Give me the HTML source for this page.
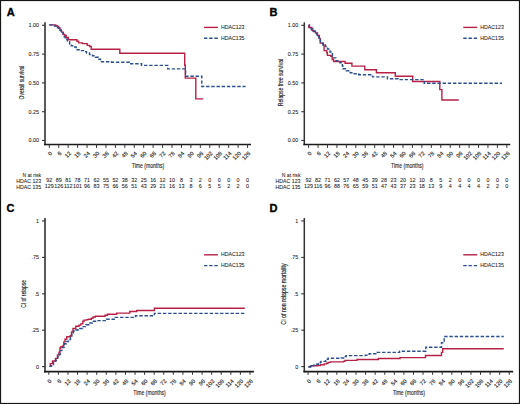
<!DOCTYPE html><html><head><meta charset="utf-8"><style>
html,body{margin:0;padding:0;background:#fff;overflow:hidden;width:520px;height:404px;}
svg{display:block;}
.t{font-family:"Liberation Sans", sans-serif;font-size:5.4px;fill:#1a1a1a;stroke:#1a1a1a;stroke-width:0.07px;}
.yl{font-size:7px;stroke-width:0.15px;}
.tk{font-size:5.7px;stroke-width:0.1px;}
.tm{font-size:6.3px;stroke-width:0.1px;}
.L{font-family:"Liberation Sans", sans-serif;font-size:11px;font-weight:bold;fill:#000;stroke:#000;stroke-width:0.35px;}
</style></head><body>
<svg width="520" height="404" viewBox="0 0 520 404">
<rect x="0" y="0" width="520" height="404" fill="#fff"/>
<line x1="45.00" y1="22.3" x2="45.00" y2="145.2" stroke="#5a5a5a" stroke-width="2"/>
<line x1="42.00" y1="25.3" x2="45.00" y2="25.3" stroke="#333" stroke-width="1.1"/>
<text x="38.90" y="27.20" text-anchor="end" class="t">1.00</text>
<line x1="42.00" y1="54.1" x2="45.00" y2="54.1" stroke="#333" stroke-width="1.1"/>
<text x="38.90" y="56.00" text-anchor="end" class="t">0.75</text>
<line x1="42.00" y1="82.9" x2="45.00" y2="82.9" stroke="#333" stroke-width="1.1"/>
<text x="38.90" y="84.80" text-anchor="end" class="t">0.50</text>
<line x1="42.00" y1="111.7" x2="45.00" y2="111.7" stroke="#333" stroke-width="1.1"/>
<text x="38.90" y="113.60" text-anchor="end" class="t">0.25</text>
<line x1="42.00" y1="140.45" x2="45.00" y2="140.45" stroke="#333" stroke-width="1.1"/>
<text x="38.90" y="142.35" text-anchor="end" class="t">0.00</text>
<line x1="44.10" y1="144.5" x2="251.00" y2="144.5" stroke="#1a1a1a" stroke-width="1.4"/>
<line x1="49.30" y1="144.3" x2="49.30" y2="147.9" stroke="#333" stroke-width="1"/>
<text transform="translate(51.20,152.3) rotate(-45)" text-anchor="end" dy="2" class="t tk">0</text>
<line x1="58.74" y1="144.3" x2="58.74" y2="147.9" stroke="#333" stroke-width="1"/>
<text transform="translate(60.64,152.3) rotate(-45)" text-anchor="end" dy="2" class="t tk">6</text>
<line x1="68.18" y1="144.3" x2="68.18" y2="147.9" stroke="#333" stroke-width="1"/>
<text transform="translate(70.08,152.3) rotate(-45)" text-anchor="end" dy="2" class="t tk">12</text>
<line x1="77.62" y1="144.3" x2="77.62" y2="147.9" stroke="#333" stroke-width="1"/>
<text transform="translate(79.52,152.3) rotate(-45)" text-anchor="end" dy="2" class="t tk">18</text>
<line x1="87.06" y1="144.3" x2="87.06" y2="147.9" stroke="#333" stroke-width="1"/>
<text transform="translate(88.96,152.3) rotate(-45)" text-anchor="end" dy="2" class="t tk">24</text>
<line x1="96.50" y1="144.3" x2="96.50" y2="147.9" stroke="#333" stroke-width="1"/>
<text transform="translate(98.40,152.3) rotate(-45)" text-anchor="end" dy="2" class="t tk">30</text>
<line x1="105.94" y1="144.3" x2="105.94" y2="147.9" stroke="#333" stroke-width="1"/>
<text transform="translate(107.84,152.3) rotate(-45)" text-anchor="end" dy="2" class="t tk">36</text>
<line x1="115.38" y1="144.3" x2="115.38" y2="147.9" stroke="#333" stroke-width="1"/>
<text transform="translate(117.28,152.3) rotate(-45)" text-anchor="end" dy="2" class="t tk">42</text>
<line x1="124.82" y1="144.3" x2="124.82" y2="147.9" stroke="#333" stroke-width="1"/>
<text transform="translate(126.72,152.3) rotate(-45)" text-anchor="end" dy="2" class="t tk">48</text>
<line x1="134.26" y1="144.3" x2="134.26" y2="147.9" stroke="#333" stroke-width="1"/>
<text transform="translate(136.16,152.3) rotate(-45)" text-anchor="end" dy="2" class="t tk">54</text>
<line x1="143.70" y1="144.3" x2="143.70" y2="147.9" stroke="#333" stroke-width="1"/>
<text transform="translate(145.60,152.3) rotate(-45)" text-anchor="end" dy="2" class="t tk">60</text>
<line x1="153.14" y1="144.3" x2="153.14" y2="147.9" stroke="#333" stroke-width="1"/>
<text transform="translate(155.04,152.3) rotate(-45)" text-anchor="end" dy="2" class="t tk">66</text>
<line x1="162.58" y1="144.3" x2="162.58" y2="147.9" stroke="#333" stroke-width="1"/>
<text transform="translate(164.48,152.3) rotate(-45)" text-anchor="end" dy="2" class="t tk">72</text>
<line x1="172.02" y1="144.3" x2="172.02" y2="147.9" stroke="#333" stroke-width="1"/>
<text transform="translate(173.92,152.3) rotate(-45)" text-anchor="end" dy="2" class="t tk">78</text>
<line x1="181.46" y1="144.3" x2="181.46" y2="147.9" stroke="#333" stroke-width="1"/>
<text transform="translate(183.36,152.3) rotate(-45)" text-anchor="end" dy="2" class="t tk">84</text>
<line x1="190.90" y1="144.3" x2="190.90" y2="147.9" stroke="#333" stroke-width="1"/>
<text transform="translate(192.80,152.3) rotate(-45)" text-anchor="end" dy="2" class="t tk">90</text>
<line x1="200.34" y1="144.3" x2="200.34" y2="147.9" stroke="#333" stroke-width="1"/>
<text transform="translate(202.24,152.3) rotate(-45)" text-anchor="end" dy="2" class="t tk">96</text>
<line x1="209.78" y1="144.3" x2="209.78" y2="147.9" stroke="#333" stroke-width="1"/>
<text transform="translate(211.68,152.3) rotate(-45)" text-anchor="end" dy="2" class="t tk">102</text>
<line x1="219.22" y1="144.3" x2="219.22" y2="147.9" stroke="#333" stroke-width="1"/>
<text transform="translate(221.12,152.3) rotate(-45)" text-anchor="end" dy="2" class="t tk">108</text>
<line x1="228.66" y1="144.3" x2="228.66" y2="147.9" stroke="#333" stroke-width="1"/>
<text transform="translate(230.56,152.3) rotate(-45)" text-anchor="end" dy="2" class="t tk">114</text>
<line x1="238.10" y1="144.3" x2="238.10" y2="147.9" stroke="#333" stroke-width="1"/>
<text transform="translate(240.00,152.3) rotate(-45)" text-anchor="end" dy="2" class="t tk">120</text>
<line x1="247.54" y1="144.3" x2="247.54" y2="147.9" stroke="#333" stroke-width="1"/>
<text transform="translate(249.44,152.3) rotate(-45)" text-anchor="end" dy="2" class="t tk">126</text>
<text x="148.00" y="167.5" text-anchor="middle" class="t tm" textLength="32.5" lengthAdjust="spacingAndGlyphs">Time (months)</text>
<text transform="translate(24.10,82.5) rotate(-90)" text-anchor="middle" class="t yl" textLength="33.8" lengthAdjust="spacingAndGlyphs">Overall survival</text>
<line x1="204.00" y1="27.4" x2="217.90" y2="27.4" stroke="#b82146" stroke-width="1.4"/>
<line x1="204.00" y1="38.2" x2="217.90" y2="38.2" stroke="#2c4f8f" stroke-width="1.4" stroke-dasharray="3.4 1.8"/>
<text x="221.00" y="29.3" class="t" textLength="23.5" lengthAdjust="spacingAndGlyphs">HDAC123</text>
<text x="221.00" y="40.1" class="t" textLength="23.5" lengthAdjust="spacingAndGlyphs">HDAC135</text>
<text x="41.20" y="176.5" text-anchor="end" class="t" textLength="18.8" lengthAdjust="spacingAndGlyphs">N at risk</text>
<text x="41.20" y="183" text-anchor="end" class="t" textLength="25" lengthAdjust="spacingAndGlyphs">HDAC 123</text>
<text x="41.20" y="189.1" text-anchor="end" class="t" textLength="25" lengthAdjust="spacingAndGlyphs">HDAC 135</text>
<text x="49.30" y="182.2" text-anchor="middle" class="t">92</text>
<text x="49.30" y="188.3" text-anchor="middle" class="t">129</text>
<text x="58.74" y="182.2" text-anchor="middle" class="t">89</text>
<text x="58.74" y="188.3" text-anchor="middle" class="t">126</text>
<text x="68.18" y="182.2" text-anchor="middle" class="t">81</text>
<text x="68.18" y="188.3" text-anchor="middle" class="t">112</text>
<text x="77.62" y="182.2" text-anchor="middle" class="t">78</text>
<text x="77.62" y="188.3" text-anchor="middle" class="t">101</text>
<text x="87.06" y="182.2" text-anchor="middle" class="t">71</text>
<text x="87.06" y="188.3" text-anchor="middle" class="t">96</text>
<text x="96.50" y="182.2" text-anchor="middle" class="t">62</text>
<text x="96.50" y="188.3" text-anchor="middle" class="t">83</text>
<text x="105.94" y="182.2" text-anchor="middle" class="t">55</text>
<text x="105.94" y="188.3" text-anchor="middle" class="t">75</text>
<text x="115.38" y="182.2" text-anchor="middle" class="t">52</text>
<text x="115.38" y="188.3" text-anchor="middle" class="t">66</text>
<text x="124.82" y="182.2" text-anchor="middle" class="t">38</text>
<text x="124.82" y="188.3" text-anchor="middle" class="t">56</text>
<text x="134.26" y="182.2" text-anchor="middle" class="t">32</text>
<text x="134.26" y="188.3" text-anchor="middle" class="t">51</text>
<text x="143.70" y="182.2" text-anchor="middle" class="t">25</text>
<text x="143.70" y="188.3" text-anchor="middle" class="t">43</text>
<text x="153.14" y="182.2" text-anchor="middle" class="t">16</text>
<text x="153.14" y="188.3" text-anchor="middle" class="t">29</text>
<text x="162.58" y="182.2" text-anchor="middle" class="t">12</text>
<text x="162.58" y="188.3" text-anchor="middle" class="t">21</text>
<text x="172.02" y="182.2" text-anchor="middle" class="t">10</text>
<text x="172.02" y="188.3" text-anchor="middle" class="t">16</text>
<text x="181.46" y="182.2" text-anchor="middle" class="t">8</text>
<text x="181.46" y="188.3" text-anchor="middle" class="t">13</text>
<text x="190.90" y="182.2" text-anchor="middle" class="t">3</text>
<text x="190.90" y="188.3" text-anchor="middle" class="t">8</text>
<text x="200.34" y="182.2" text-anchor="middle" class="t">2</text>
<text x="200.34" y="188.3" text-anchor="middle" class="t">6</text>
<text x="209.78" y="182.2" text-anchor="middle" class="t">0</text>
<text x="209.78" y="188.3" text-anchor="middle" class="t">5</text>
<text x="219.22" y="182.2" text-anchor="middle" class="t">0</text>
<text x="219.22" y="188.3" text-anchor="middle" class="t">5</text>
<text x="228.66" y="182.2" text-anchor="middle" class="t">0</text>
<text x="228.66" y="188.3" text-anchor="middle" class="t">2</text>
<text x="238.10" y="182.2" text-anchor="middle" class="t">0</text>
<text x="238.10" y="188.3" text-anchor="middle" class="t">2</text>
<text x="247.54" y="182.2" text-anchor="middle" class="t">0</text>
<text x="247.54" y="188.3" text-anchor="middle" class="t">0</text>
<path d="M49.30,24.90H55.80V25.60H57.20V26.50H58.60V28.00H60.00V30.20H61.50V32.10H63.20V34.50H64.80V35.40H66.20V37.50H68.30V39.80H76.90V41.30H78.60V42.90H82.50V43.60H87.20V45.40H89.60V46.50H91.20V49.20H119.80V53.20H184.70V65.20H185.30V78.10H195.80V98.90H203.30V98.90" fill="none" stroke="#b82146" stroke-width="1.4"/>
<path d="M49.30,24.90H54.50V26.10H56.80V27.70H59.00V30.20H61.20V33.00H63.40V36.70H65.20V39.30H67.30V41.60H69.60V44.10H71.20V45.80H73.50V47.00H76.20V49.80H80.50V50.60H83.50V51.60H86.50V53.00H89.50V54.50H92.50V55.80H95.50V57.30H98.20V59.20H100.50V61.80H111.50V62.30H129.30V63.80H141.60V65.40H167.70V68.90H185.60V69.30H185.60V76.20H201.80V86.50H245.60V86.50" fill="none" stroke="#2c4f8f" stroke-width="1.4" stroke-dasharray="3.4 1.8"/>
<line x1="304.30" y1="22.3" x2="304.30" y2="145.2" stroke="#333" stroke-width="1.5"/>
<line x1="301.30" y1="25.3" x2="304.30" y2="25.3" stroke="#333" stroke-width="1.1"/>
<text x="298.20" y="27.20" text-anchor="end" class="t">1.00</text>
<line x1="301.30" y1="54.1" x2="304.30" y2="54.1" stroke="#333" stroke-width="1.1"/>
<text x="298.20" y="56.00" text-anchor="end" class="t">0.75</text>
<line x1="301.30" y1="82.9" x2="304.30" y2="82.9" stroke="#333" stroke-width="1.1"/>
<text x="298.20" y="84.80" text-anchor="end" class="t">0.50</text>
<line x1="301.30" y1="111.7" x2="304.30" y2="111.7" stroke="#333" stroke-width="1.1"/>
<text x="298.20" y="113.60" text-anchor="end" class="t">0.25</text>
<line x1="301.30" y1="140.45" x2="304.30" y2="140.45" stroke="#333" stroke-width="1.1"/>
<text x="298.20" y="142.35" text-anchor="end" class="t">0.00</text>
<line x1="303.40" y1="144.5" x2="510.30" y2="144.5" stroke="#1a1a1a" stroke-width="1.4"/>
<line x1="308.60" y1="144.3" x2="308.60" y2="147.9" stroke="#333" stroke-width="1"/>
<text transform="translate(310.50,152.3) rotate(-45)" text-anchor="end" dy="2" class="t tk">0</text>
<line x1="318.04" y1="144.3" x2="318.04" y2="147.9" stroke="#333" stroke-width="1"/>
<text transform="translate(319.94,152.3) rotate(-45)" text-anchor="end" dy="2" class="t tk">6</text>
<line x1="327.48" y1="144.3" x2="327.48" y2="147.9" stroke="#333" stroke-width="1"/>
<text transform="translate(329.38,152.3) rotate(-45)" text-anchor="end" dy="2" class="t tk">12</text>
<line x1="336.92" y1="144.3" x2="336.92" y2="147.9" stroke="#333" stroke-width="1"/>
<text transform="translate(338.82,152.3) rotate(-45)" text-anchor="end" dy="2" class="t tk">18</text>
<line x1="346.36" y1="144.3" x2="346.36" y2="147.9" stroke="#333" stroke-width="1"/>
<text transform="translate(348.26,152.3) rotate(-45)" text-anchor="end" dy="2" class="t tk">24</text>
<line x1="355.80" y1="144.3" x2="355.80" y2="147.9" stroke="#333" stroke-width="1"/>
<text transform="translate(357.70,152.3) rotate(-45)" text-anchor="end" dy="2" class="t tk">30</text>
<line x1="365.24" y1="144.3" x2="365.24" y2="147.9" stroke="#333" stroke-width="1"/>
<text transform="translate(367.14,152.3) rotate(-45)" text-anchor="end" dy="2" class="t tk">36</text>
<line x1="374.68" y1="144.3" x2="374.68" y2="147.9" stroke="#333" stroke-width="1"/>
<text transform="translate(376.58,152.3) rotate(-45)" text-anchor="end" dy="2" class="t tk">42</text>
<line x1="384.12" y1="144.3" x2="384.12" y2="147.9" stroke="#333" stroke-width="1"/>
<text transform="translate(386.02,152.3) rotate(-45)" text-anchor="end" dy="2" class="t tk">48</text>
<line x1="393.56" y1="144.3" x2="393.56" y2="147.9" stroke="#333" stroke-width="1"/>
<text transform="translate(395.46,152.3) rotate(-45)" text-anchor="end" dy="2" class="t tk">54</text>
<line x1="403.00" y1="144.3" x2="403.00" y2="147.9" stroke="#333" stroke-width="1"/>
<text transform="translate(404.90,152.3) rotate(-45)" text-anchor="end" dy="2" class="t tk">60</text>
<line x1="412.44" y1="144.3" x2="412.44" y2="147.9" stroke="#333" stroke-width="1"/>
<text transform="translate(414.34,152.3) rotate(-45)" text-anchor="end" dy="2" class="t tk">66</text>
<line x1="421.88" y1="144.3" x2="421.88" y2="147.9" stroke="#333" stroke-width="1"/>
<text transform="translate(423.78,152.3) rotate(-45)" text-anchor="end" dy="2" class="t tk">72</text>
<line x1="431.32" y1="144.3" x2="431.32" y2="147.9" stroke="#333" stroke-width="1"/>
<text transform="translate(433.22,152.3) rotate(-45)" text-anchor="end" dy="2" class="t tk">78</text>
<line x1="440.76" y1="144.3" x2="440.76" y2="147.9" stroke="#333" stroke-width="1"/>
<text transform="translate(442.66,152.3) rotate(-45)" text-anchor="end" dy="2" class="t tk">84</text>
<line x1="450.20" y1="144.3" x2="450.20" y2="147.9" stroke="#333" stroke-width="1"/>
<text transform="translate(452.10,152.3) rotate(-45)" text-anchor="end" dy="2" class="t tk">90</text>
<line x1="459.64" y1="144.3" x2="459.64" y2="147.9" stroke="#333" stroke-width="1"/>
<text transform="translate(461.54,152.3) rotate(-45)" text-anchor="end" dy="2" class="t tk">96</text>
<line x1="469.08" y1="144.3" x2="469.08" y2="147.9" stroke="#333" stroke-width="1"/>
<text transform="translate(470.98,152.3) rotate(-45)" text-anchor="end" dy="2" class="t tk">102</text>
<line x1="478.52" y1="144.3" x2="478.52" y2="147.9" stroke="#333" stroke-width="1"/>
<text transform="translate(480.42,152.3) rotate(-45)" text-anchor="end" dy="2" class="t tk">108</text>
<line x1="487.96" y1="144.3" x2="487.96" y2="147.9" stroke="#333" stroke-width="1"/>
<text transform="translate(489.86,152.3) rotate(-45)" text-anchor="end" dy="2" class="t tk">114</text>
<line x1="497.40" y1="144.3" x2="497.40" y2="147.9" stroke="#333" stroke-width="1"/>
<text transform="translate(499.30,152.3) rotate(-45)" text-anchor="end" dy="2" class="t tk">120</text>
<line x1="506.84" y1="144.3" x2="506.84" y2="147.9" stroke="#333" stroke-width="1"/>
<text transform="translate(508.74,152.3) rotate(-45)" text-anchor="end" dy="2" class="t tk">126</text>
<text x="407.30" y="167.5" text-anchor="middle" class="t tm" textLength="32.5" lengthAdjust="spacingAndGlyphs">Time (months)</text>
<text transform="translate(283.40,82.5) rotate(-90)" text-anchor="middle" class="t yl" textLength="47.5" lengthAdjust="spacingAndGlyphs">Relapse free survival</text>
<line x1="463.30" y1="27.4" x2="477.20" y2="27.4" stroke="#b82146" stroke-width="1.4"/>
<line x1="463.30" y1="38.2" x2="477.20" y2="38.2" stroke="#2c4f8f" stroke-width="1.4" stroke-dasharray="3.4 1.8"/>
<text x="480.30" y="29.3" class="t" textLength="23.5" lengthAdjust="spacingAndGlyphs">HDAC123</text>
<text x="480.30" y="40.1" class="t" textLength="23.5" lengthAdjust="spacingAndGlyphs">HDAC135</text>
<text x="300.50" y="176.5" text-anchor="end" class="t" textLength="18.8" lengthAdjust="spacingAndGlyphs">N at risk</text>
<text x="300.50" y="183" text-anchor="end" class="t" textLength="25" lengthAdjust="spacingAndGlyphs">HDAC 123</text>
<text x="300.50" y="189.1" text-anchor="end" class="t" textLength="25" lengthAdjust="spacingAndGlyphs">HDAC 135</text>
<text x="308.60" y="182.2" text-anchor="middle" class="t">92</text>
<text x="308.60" y="188.3" text-anchor="middle" class="t">129</text>
<text x="318.04" y="182.2" text-anchor="middle" class="t">82</text>
<text x="318.04" y="188.3" text-anchor="middle" class="t">116</text>
<text x="327.48" y="182.2" text-anchor="middle" class="t">71</text>
<text x="327.48" y="188.3" text-anchor="middle" class="t">96</text>
<text x="336.92" y="182.2" text-anchor="middle" class="t">62</text>
<text x="336.92" y="188.3" text-anchor="middle" class="t">88</text>
<text x="346.36" y="182.2" text-anchor="middle" class="t">57</text>
<text x="346.36" y="188.3" text-anchor="middle" class="t">76</text>
<text x="355.80" y="182.2" text-anchor="middle" class="t">48</text>
<text x="355.80" y="188.3" text-anchor="middle" class="t">65</text>
<text x="365.24" y="182.2" text-anchor="middle" class="t">45</text>
<text x="365.24" y="188.3" text-anchor="middle" class="t">59</text>
<text x="374.68" y="182.2" text-anchor="middle" class="t">39</text>
<text x="374.68" y="188.3" text-anchor="middle" class="t">51</text>
<text x="384.12" y="182.2" text-anchor="middle" class="t">28</text>
<text x="384.12" y="188.3" text-anchor="middle" class="t">47</text>
<text x="393.56" y="182.2" text-anchor="middle" class="t">23</text>
<text x="393.56" y="188.3" text-anchor="middle" class="t">43</text>
<text x="403.00" y="182.2" text-anchor="middle" class="t">20</text>
<text x="403.00" y="188.3" text-anchor="middle" class="t">37</text>
<text x="412.44" y="182.2" text-anchor="middle" class="t">12</text>
<text x="412.44" y="188.3" text-anchor="middle" class="t">23</text>
<text x="421.88" y="182.2" text-anchor="middle" class="t">10</text>
<text x="421.88" y="188.3" text-anchor="middle" class="t">18</text>
<text x="431.32" y="182.2" text-anchor="middle" class="t">8</text>
<text x="431.32" y="188.3" text-anchor="middle" class="t">13</text>
<text x="440.76" y="182.2" text-anchor="middle" class="t">5</text>
<text x="440.76" y="188.3" text-anchor="middle" class="t">9</text>
<text x="450.20" y="182.2" text-anchor="middle" class="t">2</text>
<text x="450.20" y="188.3" text-anchor="middle" class="t">4</text>
<text x="459.64" y="182.2" text-anchor="middle" class="t">0</text>
<text x="459.64" y="188.3" text-anchor="middle" class="t">4</text>
<text x="469.08" y="182.2" text-anchor="middle" class="t">0</text>
<text x="469.08" y="188.3" text-anchor="middle" class="t">4</text>
<text x="478.52" y="182.2" text-anchor="middle" class="t">0</text>
<text x="478.52" y="188.3" text-anchor="middle" class="t">4</text>
<text x="487.96" y="182.2" text-anchor="middle" class="t">0</text>
<text x="487.96" y="188.3" text-anchor="middle" class="t">2</text>
<text x="497.40" y="182.2" text-anchor="middle" class="t">0</text>
<text x="497.40" y="188.3" text-anchor="middle" class="t">2</text>
<text x="506.84" y="182.2" text-anchor="middle" class="t">0</text>
<text x="506.84" y="188.3" text-anchor="middle" class="t">0</text>
<path d="M308.60,25.20H308.80V27.50H311.90V30.20H313.50V31.50H315.50V32.90H317.50V35.50H319.30V38.40H320.20V43.10H323.40V45.20H324.10V50.60H326.80V52.70H327.40V55.40H330.90V56.30H332.20V59.50H333.60V61.50H345.10V63.30H351.90V66.10H364.80V69.80H376.40V72.70H395.30V76.20H412.70V81.50H439.80V89.60H441.90V100.00H458.80V100.00" fill="none" stroke="#b82146" stroke-width="1.4"/>
<path d="M308.60,24.90H309.50V27.00H311.00V29.00H313.00V31.00H315.00V33.50H317.00V36.50H319.00V40.00H320.50V43.10H323.00V45.00H325.40V46.50H327.50V49.00H330.00V52.00H332.40V57.90H335.90V60.80H339.90V62.80H342.30V65.80H342.80V68.80H346.30V70.70H350.20V72.70H354.20V73.70H358.70V74.70H372.50V76.90H387.50V78.80H398.00V79.60H424.20V83.30H502.00V83.30" fill="none" stroke="#2c4f8f" stroke-width="1.4" stroke-dasharray="3.4 1.8"/>
<line x1="45.00" y1="218.1" x2="45.00" y2="372.4" stroke="#5a5a5a" stroke-width="2"/>
<line x1="42.00" y1="220.95" x2="45.00" y2="220.95" stroke="#333" stroke-width="1.1"/>
<text x="38.90" y="222.85" text-anchor="end" class="t">1</text>
<line x1="42.00" y1="257.4" x2="45.00" y2="257.4" stroke="#333" stroke-width="1.1"/>
<text x="38.90" y="259.30" text-anchor="end" class="t">.75</text>
<line x1="42.00" y1="293.8" x2="45.00" y2="293.8" stroke="#333" stroke-width="1.1"/>
<text x="38.90" y="295.70" text-anchor="end" class="t">.5</text>
<line x1="42.00" y1="330.2" x2="45.00" y2="330.2" stroke="#333" stroke-width="1.1"/>
<text x="38.90" y="332.10" text-anchor="end" class="t">.25</text>
<line x1="42.00" y1="366.6" x2="45.00" y2="366.6" stroke="#333" stroke-width="1.1"/>
<text x="38.90" y="368.50" text-anchor="end" class="t">0</text>
<line x1="44.10" y1="371.6" x2="253.90" y2="371.6" stroke="#1a1a1a" stroke-width="1.6"/>
<line x1="48.80" y1="371.4" x2="48.80" y2="374.8" stroke="#333" stroke-width="1"/>
<text transform="translate(50.70,380.0) rotate(-45)" text-anchor="end" dy="2" class="t tk">0</text>
<line x1="58.38" y1="371.4" x2="58.38" y2="374.8" stroke="#333" stroke-width="1"/>
<text transform="translate(60.28,380.0) rotate(-45)" text-anchor="end" dy="2" class="t tk">6</text>
<line x1="67.96" y1="371.4" x2="67.96" y2="374.8" stroke="#333" stroke-width="1"/>
<text transform="translate(69.86,380.0) rotate(-45)" text-anchor="end" dy="2" class="t tk">12</text>
<line x1="77.54" y1="371.4" x2="77.54" y2="374.8" stroke="#333" stroke-width="1"/>
<text transform="translate(79.44,380.0) rotate(-45)" text-anchor="end" dy="2" class="t tk">18</text>
<line x1="87.12" y1="371.4" x2="87.12" y2="374.8" stroke="#333" stroke-width="1"/>
<text transform="translate(89.02,380.0) rotate(-45)" text-anchor="end" dy="2" class="t tk">24</text>
<line x1="96.70" y1="371.4" x2="96.70" y2="374.8" stroke="#333" stroke-width="1"/>
<text transform="translate(98.60,380.0) rotate(-45)" text-anchor="end" dy="2" class="t tk">30</text>
<line x1="106.28" y1="371.4" x2="106.28" y2="374.8" stroke="#333" stroke-width="1"/>
<text transform="translate(108.18,380.0) rotate(-45)" text-anchor="end" dy="2" class="t tk">36</text>
<line x1="115.86" y1="371.4" x2="115.86" y2="374.8" stroke="#333" stroke-width="1"/>
<text transform="translate(117.76,380.0) rotate(-45)" text-anchor="end" dy="2" class="t tk">42</text>
<line x1="125.44" y1="371.4" x2="125.44" y2="374.8" stroke="#333" stroke-width="1"/>
<text transform="translate(127.34,380.0) rotate(-45)" text-anchor="end" dy="2" class="t tk">48</text>
<line x1="135.02" y1="371.4" x2="135.02" y2="374.8" stroke="#333" stroke-width="1"/>
<text transform="translate(136.92,380.0) rotate(-45)" text-anchor="end" dy="2" class="t tk">54</text>
<line x1="144.60" y1="371.4" x2="144.60" y2="374.8" stroke="#333" stroke-width="1"/>
<text transform="translate(146.50,380.0) rotate(-45)" text-anchor="end" dy="2" class="t tk">60</text>
<line x1="154.18" y1="371.4" x2="154.18" y2="374.8" stroke="#333" stroke-width="1"/>
<text transform="translate(156.08,380.0) rotate(-45)" text-anchor="end" dy="2" class="t tk">66</text>
<line x1="163.76" y1="371.4" x2="163.76" y2="374.8" stroke="#333" stroke-width="1"/>
<text transform="translate(165.66,380.0) rotate(-45)" text-anchor="end" dy="2" class="t tk">72</text>
<line x1="173.34" y1="371.4" x2="173.34" y2="374.8" stroke="#333" stroke-width="1"/>
<text transform="translate(175.24,380.0) rotate(-45)" text-anchor="end" dy="2" class="t tk">78</text>
<line x1="182.92" y1="371.4" x2="182.92" y2="374.8" stroke="#333" stroke-width="1"/>
<text transform="translate(184.82,380.0) rotate(-45)" text-anchor="end" dy="2" class="t tk">84</text>
<line x1="192.50" y1="371.4" x2="192.50" y2="374.8" stroke="#333" stroke-width="1"/>
<text transform="translate(194.40,380.0) rotate(-45)" text-anchor="end" dy="2" class="t tk">90</text>
<line x1="202.08" y1="371.4" x2="202.08" y2="374.8" stroke="#333" stroke-width="1"/>
<text transform="translate(203.98,380.0) rotate(-45)" text-anchor="end" dy="2" class="t tk">96</text>
<line x1="211.66" y1="371.4" x2="211.66" y2="374.8" stroke="#333" stroke-width="1"/>
<text transform="translate(213.56,380.0) rotate(-45)" text-anchor="end" dy="2" class="t tk">102</text>
<line x1="221.24" y1="371.4" x2="221.24" y2="374.8" stroke="#333" stroke-width="1"/>
<text transform="translate(223.14,380.0) rotate(-45)" text-anchor="end" dy="2" class="t tk">108</text>
<line x1="230.82" y1="371.4" x2="230.82" y2="374.8" stroke="#333" stroke-width="1"/>
<text transform="translate(232.72,380.0) rotate(-45)" text-anchor="end" dy="2" class="t tk">114</text>
<line x1="240.40" y1="371.4" x2="240.40" y2="374.8" stroke="#333" stroke-width="1"/>
<text transform="translate(242.30,380.0) rotate(-45)" text-anchor="end" dy="2" class="t tk">120</text>
<line x1="249.98" y1="371.4" x2="249.98" y2="374.8" stroke="#333" stroke-width="1"/>
<text transform="translate(251.88,380.0) rotate(-45)" text-anchor="end" dy="2" class="t tk">126</text>
<text x="149.50" y="395.3" text-anchor="middle" class="t tm" textLength="32.3" lengthAdjust="spacingAndGlyphs">Time (months)</text>
<text transform="translate(26.00,294) rotate(-90)" text-anchor="middle" class="t yl" textLength="27.7" lengthAdjust="spacingAndGlyphs">CI of relapse</text>
<line x1="204.00" y1="254.8" x2="217.90" y2="254.8" stroke="#b82146" stroke-width="1.4"/>
<line x1="204.00" y1="265.6" x2="217.90" y2="265.6" stroke="#2c4f8f" stroke-width="1.4" stroke-dasharray="3.4 1.8"/>
<text x="221.00" y="256.4" class="t" textLength="23.5" lengthAdjust="spacingAndGlyphs">HDAC123</text>
<text x="221.00" y="267.2" class="t" textLength="23.5" lengthAdjust="spacingAndGlyphs">HDAC135</text>
<path d="M49.50,366.30H50.30V363.60H52.50V361.00H55.50V358.40H57.50V355.00H59.00V352.30H60.00V348.00H60.80V346.70H63.00V345.40H63.80V341.90H65.00V339.30H66.80V336.70H70.20V335.70H71.50V332.00H73.00V328.50H75.80V326.20H79.00V325.10H80.80V323.90H82.80V321.20H84.00V320.10H86.80V319.60H88.50V319.20H91.30V318.20H93.00V317.00H95.30V316.30H105.00V315.20H107.50V314.30H116.70V313.10H129.80V311.50H136.70V310.50H154.40V308.20H244.80V308.20" fill="none" stroke="#b82146" stroke-width="1.4"/>
<path d="M49.50,366.40H51.50V364.50H53.50V362.50H55.50V360.50H56.30V358.90H57.60V356.70H58.90V354.50H60.20V350.60H61.90V347.60H63.60V347.10H64.50V343.70H66.30V341.50H68.50V339.50H70.50V337.50H71.80V333.00H73.50V331.00H75.70V330.00H78.00V328.50H82.50V326.60H86.00V324.70H89.00V323.00H92.30V321.20H95.50V320.60H106.50V319.20H115.00V317.40H135.50V315.80H154.40V313.40H244.50V313.40" fill="none" stroke="#2c4f8f" stroke-width="1.4" stroke-dasharray="3.4 1.8"/>
<line x1="304.30" y1="218.1" x2="304.30" y2="372.4" stroke="#333" stroke-width="1.5"/>
<line x1="301.30" y1="220.95" x2="304.30" y2="220.95" stroke="#333" stroke-width="1.1"/>
<text x="298.20" y="222.85" text-anchor="end" class="t">1</text>
<line x1="301.30" y1="257.4" x2="304.30" y2="257.4" stroke="#333" stroke-width="1.1"/>
<text x="298.20" y="259.30" text-anchor="end" class="t">.75</text>
<line x1="301.30" y1="293.8" x2="304.30" y2="293.8" stroke="#333" stroke-width="1.1"/>
<text x="298.20" y="295.70" text-anchor="end" class="t">.5</text>
<line x1="301.30" y1="330.2" x2="304.30" y2="330.2" stroke="#333" stroke-width="1.1"/>
<text x="298.20" y="332.10" text-anchor="end" class="t">.25</text>
<line x1="301.30" y1="366.6" x2="304.30" y2="366.6" stroke="#333" stroke-width="1.1"/>
<text x="298.20" y="368.50" text-anchor="end" class="t">0</text>
<line x1="303.40" y1="371.6" x2="513.20" y2="371.6" stroke="#1a1a1a" stroke-width="1.6"/>
<line x1="308.10" y1="371.4" x2="308.10" y2="374.8" stroke="#333" stroke-width="1"/>
<text transform="translate(310.00,380.0) rotate(-45)" text-anchor="end" dy="2" class="t tk">0</text>
<line x1="317.68" y1="371.4" x2="317.68" y2="374.8" stroke="#333" stroke-width="1"/>
<text transform="translate(319.58,380.0) rotate(-45)" text-anchor="end" dy="2" class="t tk">6</text>
<line x1="327.26" y1="371.4" x2="327.26" y2="374.8" stroke="#333" stroke-width="1"/>
<text transform="translate(329.16,380.0) rotate(-45)" text-anchor="end" dy="2" class="t tk">12</text>
<line x1="336.84" y1="371.4" x2="336.84" y2="374.8" stroke="#333" stroke-width="1"/>
<text transform="translate(338.74,380.0) rotate(-45)" text-anchor="end" dy="2" class="t tk">18</text>
<line x1="346.42" y1="371.4" x2="346.42" y2="374.8" stroke="#333" stroke-width="1"/>
<text transform="translate(348.32,380.0) rotate(-45)" text-anchor="end" dy="2" class="t tk">24</text>
<line x1="356.00" y1="371.4" x2="356.00" y2="374.8" stroke="#333" stroke-width="1"/>
<text transform="translate(357.90,380.0) rotate(-45)" text-anchor="end" dy="2" class="t tk">30</text>
<line x1="365.58" y1="371.4" x2="365.58" y2="374.8" stroke="#333" stroke-width="1"/>
<text transform="translate(367.48,380.0) rotate(-45)" text-anchor="end" dy="2" class="t tk">36</text>
<line x1="375.16" y1="371.4" x2="375.16" y2="374.8" stroke="#333" stroke-width="1"/>
<text transform="translate(377.06,380.0) rotate(-45)" text-anchor="end" dy="2" class="t tk">42</text>
<line x1="384.74" y1="371.4" x2="384.74" y2="374.8" stroke="#333" stroke-width="1"/>
<text transform="translate(386.64,380.0) rotate(-45)" text-anchor="end" dy="2" class="t tk">48</text>
<line x1="394.32" y1="371.4" x2="394.32" y2="374.8" stroke="#333" stroke-width="1"/>
<text transform="translate(396.22,380.0) rotate(-45)" text-anchor="end" dy="2" class="t tk">54</text>
<line x1="403.90" y1="371.4" x2="403.90" y2="374.8" stroke="#333" stroke-width="1"/>
<text transform="translate(405.80,380.0) rotate(-45)" text-anchor="end" dy="2" class="t tk">60</text>
<line x1="413.48" y1="371.4" x2="413.48" y2="374.8" stroke="#333" stroke-width="1"/>
<text transform="translate(415.38,380.0) rotate(-45)" text-anchor="end" dy="2" class="t tk">66</text>
<line x1="423.06" y1="371.4" x2="423.06" y2="374.8" stroke="#333" stroke-width="1"/>
<text transform="translate(424.96,380.0) rotate(-45)" text-anchor="end" dy="2" class="t tk">72</text>
<line x1="432.64" y1="371.4" x2="432.64" y2="374.8" stroke="#333" stroke-width="1"/>
<text transform="translate(434.54,380.0) rotate(-45)" text-anchor="end" dy="2" class="t tk">78</text>
<line x1="442.22" y1="371.4" x2="442.22" y2="374.8" stroke="#333" stroke-width="1"/>
<text transform="translate(444.12,380.0) rotate(-45)" text-anchor="end" dy="2" class="t tk">84</text>
<line x1="451.80" y1="371.4" x2="451.80" y2="374.8" stroke="#333" stroke-width="1"/>
<text transform="translate(453.70,380.0) rotate(-45)" text-anchor="end" dy="2" class="t tk">90</text>
<line x1="461.38" y1="371.4" x2="461.38" y2="374.8" stroke="#333" stroke-width="1"/>
<text transform="translate(463.28,380.0) rotate(-45)" text-anchor="end" dy="2" class="t tk">96</text>
<line x1="470.96" y1="371.4" x2="470.96" y2="374.8" stroke="#333" stroke-width="1"/>
<text transform="translate(472.86,380.0) rotate(-45)" text-anchor="end" dy="2" class="t tk">102</text>
<line x1="480.54" y1="371.4" x2="480.54" y2="374.8" stroke="#333" stroke-width="1"/>
<text transform="translate(482.44,380.0) rotate(-45)" text-anchor="end" dy="2" class="t tk">108</text>
<line x1="490.12" y1="371.4" x2="490.12" y2="374.8" stroke="#333" stroke-width="1"/>
<text transform="translate(492.02,380.0) rotate(-45)" text-anchor="end" dy="2" class="t tk">114</text>
<line x1="499.70" y1="371.4" x2="499.70" y2="374.8" stroke="#333" stroke-width="1"/>
<text transform="translate(501.60,380.0) rotate(-45)" text-anchor="end" dy="2" class="t tk">120</text>
<line x1="509.28" y1="371.4" x2="509.28" y2="374.8" stroke="#333" stroke-width="1"/>
<text transform="translate(511.18,380.0) rotate(-45)" text-anchor="end" dy="2" class="t tk">126</text>
<text x="408.80" y="395.3" text-anchor="middle" class="t tm" textLength="32.3" lengthAdjust="spacingAndGlyphs">Time (months)</text>
<text transform="translate(286.30,294) rotate(-90)" text-anchor="middle" class="t yl" textLength="61.3" lengthAdjust="spacingAndGlyphs">CI of non relapse mortality</text>
<line x1="463.30" y1="254.8" x2="477.20" y2="254.8" stroke="#b82146" stroke-width="1.4"/>
<line x1="463.30" y1="265.6" x2="477.20" y2="265.6" stroke="#2c4f8f" stroke-width="1.4" stroke-dasharray="3.4 1.8"/>
<text x="480.30" y="256.4" class="t" textLength="23.5" lengthAdjust="spacingAndGlyphs">HDAC123</text>
<text x="480.30" y="267.2" class="t" textLength="23.5" lengthAdjust="spacingAndGlyphs">HDAC135</text>
<path d="M308.30,366.60H311.20V365.80H317.30V365.60H320.40V364.70H324.20V363.90H326.50V363.20H328.10V362.40H330.40V361.90H343.50V361.40H345.00V360.40H357.00V359.50H378.30V358.50H400.00V357.60H425.50V355.50H441.50V352.40H442.70V348.80H503.80V348.80" fill="none" stroke="#b82146" stroke-width="1.4"/>
<path d="M308.30,367.00H310.40V365.80H313.50V365.10H316.50V364.30H318.50V363.50H320.40V362.00H321.20V361.40H325.80V360.80H327.30V359.30H328.10V358.30H341.20V358.00H344.60V356.50H346.20V355.60H365.40V355.30H369.20V353.80H377.00V352.40H399.60V351.20H425.80V347.30H441.50V342.70H444.20V336.50H503.80V336.50" fill="none" stroke="#2c4f8f" stroke-width="1.4" stroke-dasharray="3.4 1.8"/>
<text x="6.8" y="16.2" class="L">A</text>
<text x="269.4" y="16.2" class="L">B</text>
<text x="6.6" y="212.2" class="L">C</text>
<text x="269.4" y="211.7" class="L">D</text>
<rect x="0.5" y="0.5" width="519" height="403" fill="none" stroke="#151515" stroke-width="1.2"/>
</svg></body></html>
